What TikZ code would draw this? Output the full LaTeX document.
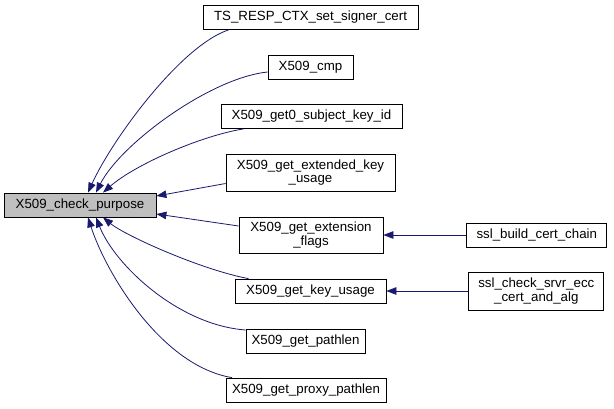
\documentclass[tikz,border=0pt]{standalone}
\usepackage{fontspec}
\setmainfont{Liberation Sans}
\usetikzlibrary{arrows.meta, positioning}
\definecolor{midnight}{RGB}{25,25,112}
\definecolor{focusgray}{RGB}{191,191,191}

\begin{document}
\begin{tikzpicture}[x=1pt, y=-1pt,
    fn/.style={rectangle, draw=black, line width=0.8pt, inner xsep=4pt, inner ysep=2pt,
               minimum height=24pt, align=center, font=\fontsize{13.3}{13.5}\selectfont},
    calls/.style={draw=midnight, line width=0.8pt, -{Triangle[length=10pt,width=7.5pt]}}]

    \useasboundingbox (0,0) rectangle (614,408);

    % function being examined
    \node[fn, fill=focusgray, minimum width=152pt] (purpose) at (80,205) {X509\_check\_purpose};

    % callers
    \node[fn, minimum width=215pt] (ts)      at (310.5,17.5) {TS\_RESP\_CTX\_set\_signer\_cert};
    \node[fn, minimum width=85pt]  (cmp)     at (310.5,67)   {X509\_cmp};
    \node[fn, minimum width=181pt] (subj)    at (311.5,116.5) {X509\_get0\_subject\_key\_id};
    \node[fn, minimum width=169pt, minimum height=37pt] (ext) at (310.5,172.5) {X509\_get\_extended\_key\\\_usage};
    \node[fn, minimum width=144pt, minimum height=36pt] (flags) at (311,235) {X509\_get\_extension\\\_flags};
    \node[fn, minimum width=151pt] (keyu)    at (310.5,291)  {X509\_get\_key\_usage};
    \node[fn, minimum width=119pt] (pathlen) at (305.5,341)  {X509\_get\_pathlen};
    \node[fn, minimum width=160pt] (proxy)   at (306,390)    {X509\_get\_proxy\_pathlen};

    \node[fn, minimum width=140pt, right=83pt of flags] (build) {ssl\_build\_cert\_chain};
    \node[fn, minimum width=135pt, minimum height=38pt, right=82pt of keyu] (srvr) {ssl\_check\_srvr\_ecc\\\_cert\_and\_alg};

    \draw[calls] ([xshift=-82pt]ts.south) .. controls +(-48,16) and +(24,-53) .. ([xshift=8pt]purpose.north);
    \draw[calls] ([yshift=-5pt]cmp.west) .. controls +(-58,6) and +(24,-48) .. ([xshift=16pt]purpose.north);
    \draw[calls] ([xshift=-68pt]subj.south) .. controls +(-43,7) and +(32,-28) .. ([xshift=23pt]purpose.north);
    \draw[calls] ([yshift=-11pt]ext.west) -- ([yshift=9pt]purpose.east);
    \draw[calls] ([yshift=9pt]flags.west) -- ([yshift=-9pt]purpose.east);
    \draw[calls] ([xshift=-62pt]keyu.north) .. controls +(-48,-9) and +(22,18) .. ([xshift=23pt]purpose.south);
    \draw[calls] ([yshift=11pt]pathlen.west) .. controls +(-67,-5) and +(19,48) .. ([xshift=16pt]purpose.south);
    \draw[calls] ([xshift=-74pt]proxy.north) .. controls +(-72,-12) and +(17,53) .. ([xshift=8pt]purpose.south);
    \draw[calls] (build) -- (flags);
    \draw[calls] (srvr) -- (keyu);
\end{tikzpicture}
\end{document}
